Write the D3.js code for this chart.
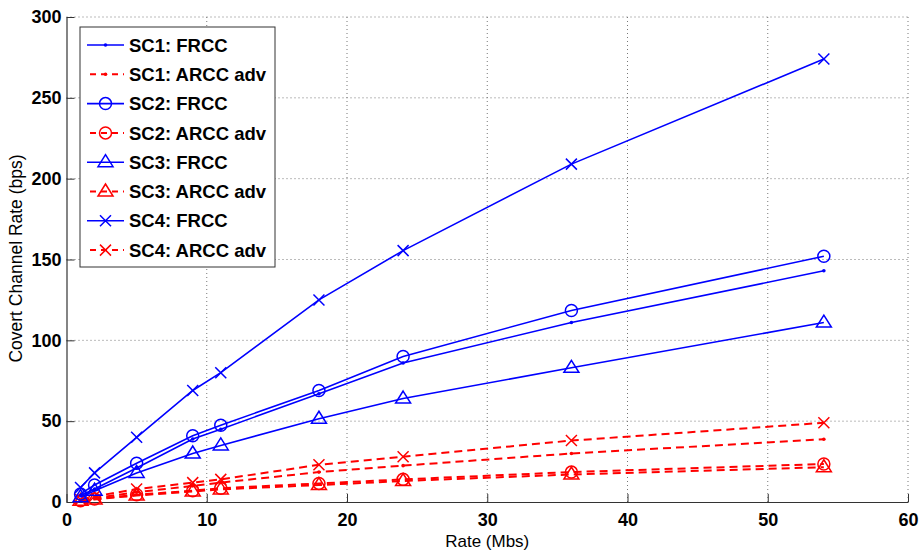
<!DOCTYPE html>
<html>
<head>
<meta charset="utf-8">
<script src="https://cdn.jsdelivr.net/npm/d3@7"></script>
<style>
  html, body { margin: 0; padding: 0; background: #fff; }
  svg { display: block; }
  text { font-family: "Liberation Sans", Arial, Helvetica, sans-serif; }
</style>
</head>
<body>
<svg id="chart" width="921" height="552"></svg>
<script>
// PHY rates (Mb/s) at which the covert channel was measured
const rates = [1, 2, 5, 9, 11, 18, 24, 36, 54];

// Covert channel rate (bps) per scenario
const sc1Frcc = [4, 8, 21, 39, 45, 67, 86, 111, 143];
const sc1Arcc = [1, 2.5, 6, 10, 12, 18.5, 22.5, 30, 38.8];
const sc2Frcc = [5, 10.5, 24, 41, 47.5, 69, 90, 118.5, 152];
const sc2Arcc = [0.8, 1.8, 4.5, 7, 8.5, 11.5, 14, 18.5, 23.5];
const sc3Frcc = [3, 7, 18, 30, 35, 51.5, 64, 83, 111];
const sc3Arcc = [0.7, 1.6, 4, 6.5, 7.8, 10.5, 13, 17, 21.5];
const sc4Frcc = [9, 18, 40, 69, 80, 125, 155.5, 209, 274];
const sc4Arcc = [1.5, 3.5, 8, 12, 14, 23, 28, 38, 49];

const seriesNames = [
  "SC1: FRCC", "SC1: ARCC adv", "SC2: FRCC", "SC2: ARCC adv",
  "SC3: FRCC", "SC3: ARCC adv", "SC4: FRCC", "SC4: ARCC adv"
];
const seriesValues = [sc1Frcc, sc1Arcc, sc2Frcc, sc2Arcc, sc3Frcc, sc3Arcc, sc4Frcc, sc4Arcc];
const seriesMarkers = ["dot", "dot", "circle", "circle", "triangle", "triangle", "x", "x"];
const seriesKinds = ["frcc", "arcc", "frcc", "arcc", "frcc", "arcc", "frcc", "arcc"];

const xTicks = [0, 10, 20, 30, 40, 50, 60];
const yTicks = [0, 50, 100, 150, 200, 250, 300];

const svg = d3.select("#chart");
const margin = { left: 66.5, right: 13, top: 17, bottom: 50 };
const W = 921, H = 552;

const x = d3.scaleLinear().domain([0, 60]).range([margin.left, W - margin.right]);
const y = d3.scaleLinear().domain([0, 300]).range([H - margin.bottom, margin.top]);

const BLUE = "#0000ff", RED = "#ff0000";

// dotted grid
const grid = svg.append("g");
grid.selectAll("line.gx").data(xTicks.slice(1)).enter().append("line")
  .attr("x1", d => x(d)).attr("x2", d => x(d))
  .attr("y1", y(0)).attr("y2", y(300))
  .attr("stroke", "#777").attr("stroke-width", 1).attr("stroke-dasharray", "1,3");
grid.selectAll("line.gy").data(yTicks.slice(1)).enter().append("line")
  .attr("x1", x(0)).attr("x2", x(60))
  .attr("y1", d => y(d)).attr("y2", d => y(d))
  .attr("stroke", "#777").attr("stroke-width", 1).attr("stroke-dasharray", "1,3");

// axes with inward ticks
const xAxis = d3.axisBottom(x).tickValues(xTicks).tickSizeInner(-8).tickSizeOuter(0).tickPadding(14);
const yAxis = d3.axisLeft(y).tickValues(yTicks).tickSizeInner(-8).tickSizeOuter(0).tickPadding(5);

const gx = svg.append("g").attr("transform", `translate(0,${y(0)})`).call(xAxis);
const gy = svg.append("g").attr("transform", `translate(${x(0)},0)`).call(yAxis);
[gx, gy].forEach(g => {
  g.select(".domain").attr("stroke", "#333").attr("stroke-width", 1.2);
  g.selectAll(".tick line").attr("stroke", "#333").attr("stroke-width", 1);
  g.selectAll(".tick text").attr("font-size", 18).attr("font-weight", "bold")
    .attr("fill", "#000").style("font-family", "'Liberation Sans', Arial, sans-serif");
});
gx.selectAll(".tick text").attr("dy", "0.55em");

// axis titles
svg.append("text").attr("x", x(30)).attr("y", 546.5).attr("text-anchor", "middle")
  .attr("font-size", 17).text("Rate (Mbs)");
svg.append("text").attr("transform", `translate(22,${y(150) - 1}) rotate(-90)`)
  .attr("text-anchor", "middle").attr("font-size", 17.5).text("Covert Channel Rate (bps)");

// marker drawing
function drawMarker(g, type, color, cx, cy) {
  if (type === "dot") {
    g.append("circle").attr("cx", cx).attr("cy", cy).attr("r", 1.8).attr("fill", color);
  } else if (type === "circle") {
    g.append("circle").attr("cx", cx).attr("cy", cy).attr("r", 6)
      .attr("fill", "none").attr("stroke", color).attr("stroke-width", 1.5);
  } else if (type === "triangle") {
    const s = 7.5;
    g.append("path")
      .attr("d", `M${cx},${cy - s} L${cx + s},${cy + s * 0.6} L${cx - s},${cy + s * 0.6} Z`)
      .attr("fill", "none").attr("stroke", color).attr("stroke-width", 1.5);
  } else if (type === "x") {
    const s = 5.5;
    g.append("path")
      .attr("d", `M${cx - s},${cy - s} L${cx + s},${cy + s} M${cx - s},${cy + s} L${cx + s},${cy - s}`)
      .attr("stroke", color).attr("stroke-width", 1.5);
  }
}

const line = d3.line().x(d => x(d[0])).y(d => y(d[1]));
const plot = svg.append("g");

// draw red (dashed) first, then blue on top
const order = [1, 3, 5, 7, 0, 2, 4, 6];
order.forEach(i => {
  const color = seriesKinds[i] === "frcc" ? BLUE : RED;
  const pts = rates.map((r, k) => [r, seriesValues[i][k]]);
  const p = plot.append("path").datum(pts).attr("d", line)
    .attr("fill", "none").attr("stroke", color)
    .attr("stroke-width", seriesKinds[i] === "frcc" ? 1.6 : 2);
  if (seriesKinds[i] === "arcc") p.attr("stroke-dasharray", "8,5");
  const mg = plot.append("g");
  pts.forEach(d => drawMarker(mg, seriesMarkers[i], color, x(d[0]), y(d[1])));
});

// legend
const lg = svg.append("g");
const lx = 80, ly = 27, lw = 195, lh = 240;
lg.append("rect").attr("x", lx).attr("y", ly).attr("width", lw).attr("height", lh)
  .attr("fill", "#fff").attr("stroke", "#333").attr("stroke-width", 1);
seriesNames.forEach((name, i) => {
  const cy = 45 + i * 29.3;
  const color = seriesKinds[i] === "frcc" ? BLUE : RED;
  const l = lg.append("line").attr("x1", 87).attr("x2", 124).attr("y1", cy).attr("y2", cy)
    .attr("stroke", color).attr("stroke-width", seriesKinds[i] === "frcc" ? 1.6 : 2);
  if (seriesKinds[i] === "arcc") l.attr("stroke-dasharray", "6,5").attr("x1", 90);
  drawMarker(lg, seriesMarkers[i], color, 105.5, cy);
  lg.append("text").attr("x", 129).attr("y", cy).attr("dy", "0.36em")
    .attr("font-size", 18.5).attr("font-weight", "bold").text(name);
});
</script>
</body>
</html>
